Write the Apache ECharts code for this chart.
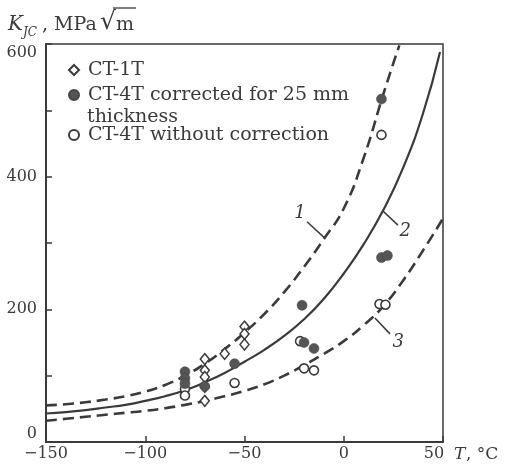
<!DOCTYPE html>
<html>
<head>
<meta charset="utf-8">
<script src="https://cdn.jsdelivr.net/npm/echarts@6/dist/echarts.min.js"></script>
<style>
  html, body { margin: 0; padding: 0; background: #fff; }
  #chart { width: 507px; height: 466px; }
</style>
</head>
<body>
<div id="chart"></div>
<script>
// Axis ranges and labelled ticks
const xTicks = [-150, -100, -50, 0, 50];
const yTicks = [0, 200, 400, 600];

// CT-1T specimens: [T (°C), K_JC (MPa·√m)]
const ct1T = [[-70, 125], [-70, 108], [-70, 98], [-70, 83], [-70, 62],
              [-60, 133], [-50, 174], [-50, 163], [-50, 147]];
// CT-4T specimens, corrected to 25 mm thickness
const ct4TCorrected = [[-80, 106], [-80, 96], [-80, 88], [-70, 84], [-55, 118],
                       [-21, 206], [-20, 150], [-15, 141], [19, 517], [19, 278], [22, 281]];
// CT-4T specimens, no thickness correction
const ct4TRaw = [[-80, 80], [-80, 70], [-55, 89], [-22, 152], [-20, 111],
                 [-15, 108], [18, 208], [21, 207], [19, 463]];

// Upper bound (1), median (2) and lower bound (3) curves
const curve1 = [[-150, 55], [-140, 57], [-130, 60], [-120, 64], [-110, 69], [-100, 76],
                [-90, 86], [-80, 100], [-70, 118], [-60, 140], [-50, 165], [-40, 193],
                [-30, 226], [-20, 264], [-10, 306], [0, 352], [10, 428], [20, 525], [28, 598]];
const curve2 = [[-150, 43], [-140, 45], [-130, 48], [-120, 52], [-110, 56], [-100, 62],
                [-90, 69], [-80, 78], [-70, 90], [-60, 104], [-50, 121], [-40, 139],
                [-30, 160], [-20, 185], [-10, 216], [0, 254], [10, 298], [20, 350],
                [30, 414], [40, 496], [48.5, 588]];
const curve3 = [[-150, 32], [-140, 35], [-130, 38], [-120, 41], [-110, 44], [-100, 47],
                [-90, 51], [-80, 56], [-70, 62], [-60, 69], [-50, 77], [-40, 87],
                [-30, 100], [-20, 116], [-10, 133], [0, 152], [10, 176], [20, 205],
                [30, 244], [40, 289], [50, 337]];

const seriesNames = ['CT-1T', 'CT-4T corrected for 25 mm', 'CT-4T without correction'];
const curveLabels = ['1', '2', '3'];

const INK = '#3a3a3a';
const SERIF = '"DejaVu Serif", "Liberation Serif", serif';

const chart = echarts.init(document.getElementById('chart'));

const legendText = { fontFamily: SERIF, fontSize: 19, color: INK, lineHeight: 20, padding: [0, 0, 0, 4] };

chart.setOption({
  animation: false,
  backgroundColor: '#ffffff',
  grid: {
    left: 46, right: 64, top: 44, bottom: 24,
    show: true, borderColor: INK, borderWidth: 1.5, backgroundColor: 'transparent'
  },
  xAxis: {
    type: 'value', min: xTicks[0], max: xTicks[xTicks.length - 1], interval: 50,
    axisLine: { onZero: false, lineStyle: { color: INK, width: 2 } },
    axisTick: { inside: true, length: 6, lineStyle: { color: INK, width: 1.5 } },
    splitLine: { show: false },
    axisLabel: {
      margin: 4, color: INK, fontFamily: SERIF, fontSize: 16,
      formatter: v => {
        if (v === xTicks[xTicks.length - 1]) return '{r|' + v + '}';
        return v < 0 ? '\u2212' + Math.abs(v) : String(v);
      },
      rich: { r: { fontFamily: SERIF, fontSize: 16, color: INK, padding: [0, 18, 0, 0] } }
    }
  },
  yAxis: {
    type: 'value', min: yTicks[0], max: yTicks[yTicks.length - 1], interval: 100,
    axisLine: { show: true, onZero: false, lineStyle: { color: INK, width: 2 } },
    axisTick: { inside: true, length: 6, lineStyle: { color: INK, width: 1.5 } },
    splitLine: { show: false },
    axisLabel: {
      margin: 9, color: INK, fontFamily: SERIF, fontSize: 16,
      formatter: v => {
        if (!yTicks.includes(v)) return '';
        if (v === yTicks[yTicks.length - 1]) return '{d|' + v + '}';
        if (v === yTicks[0]) return '{u|' + v + '}';
        return String(v);
      },
      rich: {
        d: { fontFamily: SERIF, fontSize: 16, color: INK, padding: [18, 0, 0, 0] },
        u: { fontFamily: SERIF, fontSize: 16, color: INK, padding: [0, 0, 16, 0] }
      }
    }
  },
  legend: [
    {
      data: [seriesNames[0], seriesNames[1]], orient: 'vertical', left: 68, top: 60, padding: 0,
      itemWidth: 10, itemHeight: 10, itemGap: 5, selectedMode: false, textStyle: legendText
    },
    {
      data: [seriesNames[2]], orient: 'vertical', left: 68, top: 125, padding: 0,
      itemWidth: 10, itemHeight: 10, selectedMode: false, textStyle: legendText
    }
  ],
  series: [
    { type: 'line', data: curve1, smooth: true, symbol: 'none', z: 2,
      lineStyle: { color: INK, width: 2.6, type: [11, 6] } },
    { type: 'line', data: curve2, smooth: true, symbol: 'none', z: 2,
      lineStyle: { color: INK, width: 2.2 } },
    { type: 'line', data: curve3, smooth: true, symbol: 'none', z: 2,
      lineStyle: { color: INK, width: 2.6, type: [11, 6] } },
    { name: seriesNames[0], type: 'scatter', data: ct1T, symbol: 'diamond', symbolSize: [9, 11], z: 3,
      itemStyle: { color: '#ffffff', borderColor: INK, borderWidth: 1.5, opacity: 1 } },
    { name: seriesNames[2], type: 'scatter', data: ct4TRaw, symbol: 'circle', symbolSize: 9, z: 4,
      itemStyle: { color: '#ffffff', borderColor: INK, borderWidth: 1.6, opacity: 1 } },
    { name: seriesNames[1], type: 'scatter', data: ct4TCorrected, symbol: 'circle', symbolSize: 10, z: 5,
      itemStyle: { color: '#555555', borderColor: '#444444', borderWidth: 0.5, opacity: 1 } }
  ]
});

// Curve call-outs: label anchor and leader line, in data coordinates
const callouts = [
  { text: curveLabels[0], at: [-22, 345], from: [-18.5, 332], to: [-9.4, 307] },
  { text: curveLabels[1], at: [31, 318], from: [27.3, 327], to: [19.8, 348] },
  { text: curveLabels[2], at: [27.5, 150], from: [23.3, 163], to: [15.7, 187] }
];

const px = p => chart.convertToPixel({ xAxisIndex: 0, yAxisIndex: 0 }, p);

const graphics = [];
callouts.forEach((c, i) => {
  const a = px(c.at), f = px(c.from), t = px(c.to);
  graphics.push({
    type: 'line', id: 'lead' + i, silent: true,
    shape: { x1: f[0], y1: f[1], x2: t[0], y2: t[1] },
    style: { stroke: INK, lineWidth: 1.5 }
  });
  graphics.push({
    type: 'text', id: 'lab' + i, silent: true, x: a[0], y: a[1],
    style: { text: c.text, font: 'italic 18px ' + SERIF, fill: INK, align: 'center', verticalAlign: 'middle' }
  });
});

// Second line of the wrapped legend entry
graphics.push({
  type: 'text', id: 'legendWrap', silent: true, x: 87, y: 117,
  style: { text: 'thickness', font: '19px ' + SERIF, fill: INK, verticalAlign: 'middle' }
});

// Y-axis title: K_JC, MPa·√m
graphics.push(
  { type: 'text', id: 'yK', silent: true, x: 8, y: 25,
    style: { text: 'K', font: 'italic 20px ' + SERIF, fill: INK, verticalAlign: 'middle' } },
  { type: 'text', id: 'yJC', silent: true, x: 23, y: 33,
    style: { text: 'JC', font: 'italic 12px ' + SERIF, fill: INK, verticalAlign: 'middle' } },
  { type: 'text', id: 'yUnit', silent: true, x: 42, y: 25,
    style: { text: ', MPa', font: '19px ' + SERIF, fill: INK, verticalAlign: 'middle' } },
  { type: 'text', id: 'yRad', silent: true, x: 100, y: 22,
    style: { text: '\u221A', font: '25px ' + SERIF, fill: INK, verticalAlign: 'middle' } },
  { type: 'text', id: 'yM', silent: true, x: 116, y: 25,
    style: { text: 'm', font: '19px ' + SERIF, fill: INK, verticalAlign: 'middle' } },
  { type: 'line', id: 'yBar', silent: true,
    shape: { x1: 113, y1: 8, x2: 136, y2: 8 }, style: { stroke: INK, lineWidth: 1.3 } }
);

// X-axis title: T, °C
graphics.push(
  { type: 'text', id: 'xT', silent: true, x: 454, y: 455,
    style: { text: 'T', font: 'italic 17px ' + SERIF, fill: INK, verticalAlign: 'middle' } },
  { type: 'text', id: 'xU', silent: true, x: 466, y: 455,
    style: { text: ', \u00B0C', font: '17px ' + SERIF, fill: INK, verticalAlign: 'middle' } }
);

chart.setOption({ graphic: graphics });
</script>
</body>
</html>
